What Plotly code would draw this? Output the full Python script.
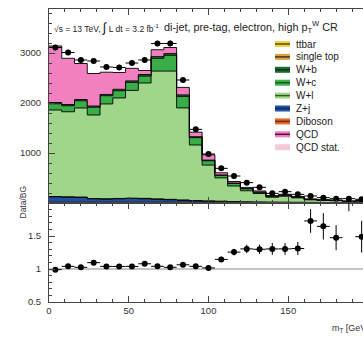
import numpy as np
import plotly.graph_objects as go

# m_T binning: 8 GeV bins from 0 to 200 GeV
bin_edges = list(range(0, 201, 8))
bin_centers = [e + 4 for e in bin_edges[:-1]]

# Expected background per bin, by process
diboson = [15, 15, 15, 15, 15, 15, 15, 15, 15, 15, 14, 12, 10, 9, 8, 7, 6, 5, 5, 4, 3, 3, 3, 2, 2]
z_jets = [110, 105, 100, 70, 65, 70, 75, 70, 60, 50, 40, 30, 25, 20, 15, 12, 10, 8, 7, 6, 5, 4, 3, 3, 2]
ttbar = [3, 3, 3, 3, 4, 4, 4, 5, 5, 5, 5, 5, 5, 5, 5, 4, 4, 4, 3, 3, 3, 2, 2, 2, 2]
single_top = [2, 2, 2, 2, 2, 2, 3, 3, 3, 3, 3, 3, 3, 3, 2, 2, 2, 2, 2, 2, 1, 1, 1, 1, 1]
w_light = [1730, 1700, 1780, 1670, 1895, 2010, 2155, 2307, 2555, 2565, 1840, 1110, 715, 465, 310,
           220, 168, 96, 118, 87, 51, 40, 37, 22, 30]
w_charm = [125, 120, 145, 155, 165, 145, 160, 138, 255, 315, 230, 147, 86, 50, 52, 39, 25, 16, 20, 15,
           9, 7, 6, 5, 6]
w_bottom = [25, 25, 25, 25, 25, 28, 30, 32, 35, 35, 30, 20, 14, 10, 8, 6, 5, 4, 3, 3, 2, 2, 2, 1, 1]
qcd = [1131, 924, 720, 650, 445, 336, 252, 80, 137, 122, 150, 89, 106, 43, 30, 22, 21, 13, 16, 12,
       7, 6, 5, 4, 5]

# Observed events per bin
data = [3110, 3010, 2860, 2840, 2720, 2710, 2800, 2860, 3190, 3190, 2460, 1473, 980, 693, 540, 407,
        313, 193, 227, 173, 140, 107, 87, 87, 73]

# Uncertainty on Data/BG per bin
ratio_err = [0.02, 0.02, 0.02, 0.02, 0.02, 0.02, 0.02, 0.02, 0.02, 0.02, 0.025, 0.03, 0.035, 0.04,
             0.05, 0.065, 0.07, 0.09, 0.09, 0.1, 0.18, 0.2, 0.19, 0.3, 0.24]

# Stack order (bottom to top) with fill colours
stack = [
    ("Diboson", diboson, "#e8682a"),
    ("Z+j", z_jets, "#2250a2"),
    ("ttbar", ttbar, "#f3d248"),
    ("single top", single_top, "#d9a443"),
    ("W+l", w_light, "#a0d68a"),
    ("W+c", w_charm, "#38ad48"),
    ("W+b", w_bottom, "#1c6a2e"),
    ("QCD", qcd, "#f27fc0"),
]

# Legend entries: (label, swatch colour, centre line colour)
legend_entries = [
    ("ttbar", "#f3d248", "#5a4a10"),
    ("single top", "#d9a443", "#4a3510"),
    ("W+b", "#1c6a2e", "#0c3a16"),
    ("W+c", "#3cb44a", "#1a5a22"),
    ("W+l", "#a2d98a", "#2e5a22"),
    ("Z+j", "#2250a2", "#0e2a5a"),
    ("Diboson", "#e8682a", "#7a2a0a"),
    ("QCD", "#f27fc0", "#5a1035"),
    ("QCD stat.", "#f5c8dc", None),
]

FONT = "Liberation Sans, Arial, sans-serif"
W, H = 363, 344
ML, MT, MB = 49, 9, 42
PW, PH = W - ML, H - MT - MB
XMAX = PW / 1.595
SPLIT = 99 / PH  # ratio panel share of plot height


def px_x(px):
    return (px - ML) / PW


def px_y(py):
    return (H - MB - py) / PH


fig = go.Figure()

step_x = bin_edges
cum = np.zeros(len(bin_centers))
for i, (name, vals, color) in enumerate(stack):
    cum = cum + np.array(vals, dtype=float)
    fig.add_trace(go.Scatter(
        x=step_x, y=list(cum) + [cum[-1]], mode="lines", line_shape="hv",
        line=dict(color="black", width=0.9), fill="tozeroy" if i == 0 else "tonexty",
        fillcolor=color, name=name, showlegend=False, xaxis="x", yaxis="y",
        hoverinfo="skip"))

total_bg = cum.copy()
data_arr = np.array(data, dtype=float)

fig.add_trace(go.Scatter(
    x=bin_centers, y=data, mode="markers", marker=dict(color="black", size=6),
    error_y=dict(type="data", array=list(np.sqrt(data_arr)), color="black", thickness=1, width=0),
    error_x=dict(type="constant", value=4, color="black", thickness=1, width=0),
    showlegend=False, xaxis="x", yaxis="y"))

ratio = data_arr / total_bg
fig.add_trace(go.Scatter(
    x=bin_centers, y=list(ratio), mode="markers", marker=dict(color="black", size=6),
    error_y=dict(type="data", array=ratio_err, color="black", thickness=1, width=0),
    error_x=dict(type="constant", value=4, color="black", thickness=1, width=0),
    showlegend=False, xaxis="x2", yaxis="y2", cliponaxis=True))

tickfont = dict(family=FONT, size=9.5, color="#333")
axis_common = dict(showgrid=False, zeroline=False, showline=True, linecolor="#444", linewidth=1,
                   ticks="inside", tickcolor="#444", tickfont=tickfont)

fig.update_layout(
    width=W, height=H, margin=dict(l=ML, r=0, t=MT, b=MB),
    paper_bgcolor="white", plot_bgcolor="white", showlegend=False,
    xaxis=dict(domain=[0, 1], range=[0, XMAX], anchor="y", showticklabels=False,
               mirror="ticks", tickvals=[0, 50, 100, 150, 200], ticklen=6,
               minor=dict(ticks="inside", dtick=10, ticklen=3, tickcolor="#444"), **axis_common),
    yaxis=dict(domain=[SPLIT, 1], range=[0, 3880], anchor="x",
               tickvals=[1000, 2000, 3000], ticklen=6, ticklabelstandoff=5,
               minor=dict(ticks="inside", dtick=200, ticklen=3, tickcolor="#444"), **axis_common),
    yaxis3=dict(domain=[SPLIT, 1], range=[0, 3880], anchor="x", overlaying="y", side="right",
                showline=False, showgrid=False, zeroline=False, ticks="inside", ticklen=6,
                tickcolor="#444", tickvals=[1000, 2000, 3000], showticklabels=False,
                minor=dict(ticks="inside", dtick=200, ticklen=3, tickcolor="#444")),
    xaxis2=dict(domain=[0, 1], range=[0, XMAX], anchor="y2", matches="x",
                mirror="ticks", tickvals=[0, 50, 100, 150, 200], ticklen=6,
                minor=dict(ticks="inside", dtick=10, ticklen=3, tickcolor="#444"), **axis_common),
    yaxis2=dict(domain=[0, SPLIT], range=[0.5, 2.0], anchor="x2",
                tickvals=[0.5, 1, 1.5], ticktext=["0.5", "1", "1.5"], ticklen=6,
                ticklabelstandoff=5,
                minor=dict(ticks="inside", dtick=0.1, ticklen=3, tickcolor="#444"), **axis_common),
    yaxis4=dict(domain=[0, SPLIT], range=[0.5, 2.0], anchor="x2", overlaying="y2", side="right",
                showline=False, showgrid=False, zeroline=False, ticks="inside", ticklen=6,
                tickcolor="#444", tickvals=[0.5, 1, 1.5], showticklabels=False,
                minor=dict(ticks="inside", dtick=0.1, ticklen=3, tickcolor="#444")),
)

# Unity reference line in the ratio panel
fig.add_shape(type="line", xref="x2 domain", yref="y2", x0=0, x1=1, y0=1, y1=1,
              line=dict(color="#888", width=1), layer="below")

fig.add_annotation(xref="paper", yref="paper", x=px_x(52), y=px_y(27), xanchor="left",
                   yanchor="middle", showarrow=False,
                   font=dict(family=FONT, size=8.5, color="#222"),
                   text="√s = 13 TeV, <span style='font-size:13px'>∫</span> L dt = 3.2 fb<sup>-1</sup>")
fig.add_annotation(xref="paper", yref="paper", x=px_x(162), y=px_y(27), xanchor="left",
                   yanchor="middle", showarrow=False,
                   font=dict(family=FONT, size=10.8, color="#222"),
                   text="di-jet, pre-tag, electron, high p<sub>T</sub><sup>W</sup> CR")

# Legend block
row0, row_step = 44, 12.9
legend_font = dict(family=FONT, size=10, color="#222")
for k, (label, fill, edge) in enumerate(legend_entries):
    yc = row0 + k * row_step
    fig.add_shape(type="rect", xref="paper", yref="paper", x0=px_x(275), x1=px_x(290),
                  y0=px_y(yc + 3), y1=px_y(yc - 3), fillcolor=fill, line=dict(width=0))
    if edge:
        fig.add_shape(type="line", xref="paper", yref="paper", x0=px_x(275), x1=px_x(290),
                      y0=px_y(yc), y1=px_y(yc), line=dict(color=edge, width=1.5))
    fig.add_annotation(xref="paper", yref="paper", x=px_x(294), y=px_y(yc), xanchor="left",
                       yanchor="middle", showarrow=False, text=label, font=legend_font)

# Axis titles
fig.add_annotation(xref="paper", yref="paper", x=px_x(15), y=px_y(221), textangle=-90,
                   showarrow=False, text="Data/BG", font=dict(family=FONT, size=8.5, color="#333"))
fig.add_annotation(xref="paper", yref="paper", x=px_x(330), y=px_y(328), xanchor="left",
                   yanchor="middle", showarrow=False, text="m<sub>T</sub> [GeV]",
                   font=dict(family=FONT, size=9, color="#333"))

fig.write_html("out.html")
